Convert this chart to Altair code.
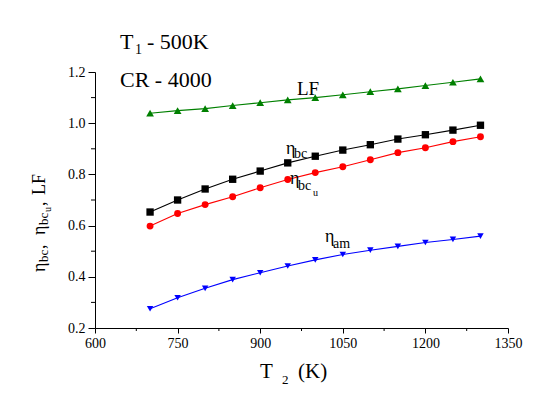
import altair as alt
import pandas as pd

T2 = [700, 750, 800, 850, 900, 950, 1000, 1050, 1100, 1150, 1200, 1250, 1300]
LF = [1.039, 1.049, 1.057, 1.069, 1.080, 1.091, 1.100, 1.111, 1.123, 1.134, 1.147, 1.160, 1.173]
ETA_BC = [0.653, 0.700, 0.743, 0.781, 0.813, 0.845, 0.871, 0.895, 0.916, 0.938, 0.955, 0.973, 0.992]
ETA_BCU = [0.598, 0.647, 0.682, 0.713, 0.748, 0.780, 0.807, 0.830, 0.857, 0.885, 0.904, 0.928, 0.947]
ETA_AM = [0.275, 0.318, 0.355, 0.389, 0.416, 0.442, 0.466, 0.487, 0.504, 0.519, 0.534, 0.546, 0.559]

SERIES = ["LF", "bc", "bcu", "am"]
X_TICKS = [600, 750, 900, 1050, 1200, 1350]
X_MINOR = [675, 825, 975, 1125, 1275]
Y_TICKS = [0.2, 0.4, 0.6, 0.8, 1.0, 1.2]
Y_MINOR = [0.3, 0.5, 0.7, 0.9, 1.1]

rows = []
for name, vals in zip(SERIES, [LF, ETA_BC, ETA_BCU, ETA_AM]):
    for t, v in zip(T2, vals):
        rows.append({"T2": t, "series": name, "value": v})
df = pd.DataFrame(rows)

xscale = alt.Scale(domain=[600, 1350], nice=False, zero=False)
yscale = alt.Scale(domain=[0.2, 1.2], nice=False, zero=False)

color = alt.Color("series:N", legend=None,
                  scale=alt.Scale(domain=SERIES, range=["#008000", "#000000", "#ff0000", "#0000ff"]))
shape = alt.Shape("series:N", legend=None,
                  scale=alt.Scale(domain=SERIES, range=["triangle-up", "square", "circle", "triangle-down"]))
size = alt.Size("series:N", legend=None,
                scale=alt.Scale(domain=SERIES, range=[60, 42, 38, 64]))

TICK_FONT = "Liberation Sans Narrow"
xaxis = alt.Axis(values=X_TICKS, format="d", title=None, grid=False, labelFont=TICK_FONT,
                 labelFontSize=14, tickSize=5, labelPadding=3, labelFlush=False, labelOverlap=False,
                 domainColor="black", tickColor="black", labelColor="black")
yaxis = alt.Axis(values=Y_TICKS, format=".1f", title=None, grid=False, labelFont=TICK_FONT,
                 labelFontSize=14, tickSize=7, labelPadding=3, labelFlush=False, labelOverlap=False,
                 domainColor="black", tickColor="black", labelColor="black")

base = alt.Chart(df)
lines = base.mark_line(strokeWidth=1.1).encode(
    x=alt.X("T2:Q", scale=xscale, axis=xaxis),
    y=alt.Y("value:Q", scale=yscale, axis=yaxis),
    color=color,
    detail="series:N",
)
points = base.mark_point(filled=True, opacity=1).encode(
    x=alt.X("T2:Q", scale=xscale, axis=xaxis),
    y=alt.Y("value:Q", scale=yscale, axis=yaxis),
    color=color, shape=shape, size=size,
)

xminor = alt.Chart(pd.DataFrame({"v": X_MINOR})).mark_rule(color="black", strokeWidth=1).encode(
    x=alt.X("v:Q", scale=xscale, axis=xaxis), y=alt.value(256), y2=alt.value(259))
yminor = alt.Chart(pd.DataFrame({"v": Y_MINOR})).mark_rule(color="black", strokeWidth=1).encode(
    y=alt.Y("v:Q", scale=yscale, axis=yaxis), x=alt.value(0), x2=alt.value(-4))

SERIF = "Liberation Serif"


def txt(s, x, y, fs, angle=0):
    kw = dict(text=s, font=SERIF, fontSize=fs, color="black", align="left", baseline="alphabetic")
    if angle:
        kw["angle"] = angle
    return alt.Chart(pd.DataFrame({"a": [0]})).mark_text(**kw).encode(x=alt.value(x), y=alt.value(y))


texts = [
    # top-left annotations
    txt("T", 25, -23, 22), txt("1", 40, -18, 14), txt("- 500K", 52, -23, 22),
    txt("CR - 4000", 25, 15, 22),
    # series labels
    txt("LF", 202, 23, 19),
    txt("η", 191, 82, 18), txt("bc", 199, 86, 14),
    txt("η", 195, 112, 18), txt("bc", 203, 118, 14), txt("u", 218, 124, 10),
    txt("η", 230, 170, 18), txt("am", 238, 176, 14),
    # x title
    txt("T", 165, 306, 21), txt("2", 187, 312, 13), txt("(K)", 203, 306, 21),
    # y title (rotated)
    txt("η", -50, 200, 18, 270), txt("bc", -47, 190, 13, 270), txt(",", -50, 177, 18, 270),
    txt("η", -50, 163, 18, 270), txt("bc", -47, 153, 13, 270), txt("u", -44, 140, 10, 270),
    txt(",", -50, 134, 18, 270), txt("LF", -50, 123, 18, 270),
]

chart = alt.layer(lines, points, xminor, yminor, *texts).properties(
    width=413, height=256,
    autosize=alt.AutoSizeParams(type="none"),
    padding={"left": 87, "top": 64, "right": 20, "bottom": 58},
).configure(background="white").configure_view(stroke=None)

chart.save("out.html", embed_options={"renderer": "svg", "actions": False})
